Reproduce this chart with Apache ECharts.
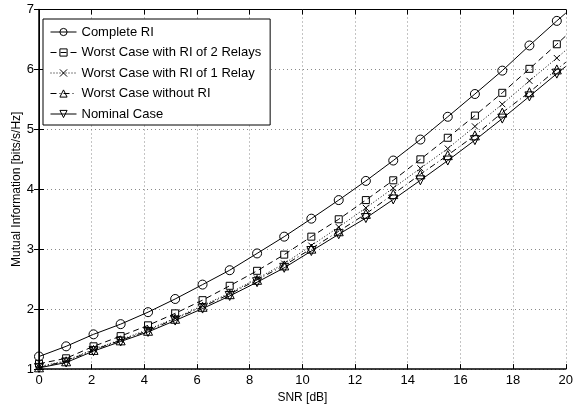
<!DOCTYPE html>
<html>
<head>
<meta charset="utf-8">
<script src="https://cdn.jsdelivr.net/npm/echarts@6/dist/echarts.min.js"></script>
<style>
html,body{margin:0;padding:0;background:#fff;}
#chart{width:576px;height:409px;}
</style>
</head>
<body>
<div id="chart"></div>
<script>
// SNR positions of markers (dB), plus line end point
const snr = [0, 1.03, 2.07, 3.10, 4.14, 5.17, 6.21, 7.24, 8.28, 9.31, 10.34, 11.38, 12.41, 13.45, 14.48, 15.52, 16.55, 17.59, 18.62, 19.66];
const snrEnd = 20;

const seriesNames = ['Complete RI', 'Worst Case with RI of 2 Relays', 'Worst Case with RI of 1 Relay', 'Worst Case without RI', 'Nominal Case'];

const completeRI = [1.21, 1.38, 1.58, 1.75, 1.95, 2.17, 2.41, 2.65, 2.93, 3.21, 3.51, 3.82, 4.14, 4.48, 4.83, 5.21, 5.59, 5.98, 6.40, 6.81];
const worst2Relays = [1.09, 1.18, 1.38, 1.55, 1.73, 1.93, 2.15, 2.39, 2.64, 2.91, 3.21, 3.50, 3.82, 4.15, 4.50, 4.86, 5.23, 5.61, 6.01, 6.42];
const worst1Relay = [1.04, 1.14, 1.33, 1.49, 1.66, 1.85, 2.06, 2.27, 2.51, 2.76, 3.06, 3.37, 3.69, 4.02, 4.35, 4.68, 5.05, 5.42, 5.81, 6.19];
const worstNoRI = [1.03, 1.13, 1.32, 1.48, 1.64, 1.84, 2.04, 2.25, 2.49, 2.73, 3.01, 3.30, 3.59, 3.92, 4.25, 4.57, 4.90, 5.28, 5.62, 6.00];
const nominal = [1.02, 1.11, 1.30, 1.46, 1.62, 1.81, 2.01, 2.22, 2.45, 2.69, 2.97, 3.25, 3.52, 3.83, 4.15, 4.48, 4.82, 5.18, 5.55, 5.93];
const lineEndValues = [6.94, 6.56, 6.32, 6.12, 6.05];

const xTicks = [0, 2, 4, 6, 8, 10, 12, 14, 16, 18, 20];
const yTicks = [1, 2, 3, 4, 5, 6, 7];

const allValues = [completeRI, worst2Relays, worst1Relay, worstNoRI, nominal];
const symbols = [
  'circle',
  'rect',
  'path://M0,0L10,10M10,0L0,10',
  'triangle',
  'path://M0,0L10,0L5,9Z'
];
const symbolSizes = [9, 7, 6, 9, 9];
const lineTypes = ['solid', [6, 4], [1, 2], [6, 3, 1, 3], 'solid'];

const series = allValues.map((vals, k) => {
  const data = snr.map((x, i) => [x, vals[i]]);
  data.push({ value: [snrEnd, lineEndValues[k]], symbol: 'none' });
  return {
    name: seriesNames[k],
    type: 'line',
    data: data,
    symbol: symbols[k],
    symbolSize: symbolSizes[k],
    showAllSymbol: true,
    lineStyle: { color: '#000', width: 1, type: lineTypes[k] },
    itemStyle: { color: 'rgba(0,0,0,0)', borderColor: '#000', borderWidth: 1 },
    emphasis: { disabled: true },
    animation: false,
    z: 2
  };
});

const font = 'Liberation Sans, Arial, sans-serif';
const chart = echarts.init(document.getElementById('chart'));
chart.setOption({
  backgroundColor: '#fff',
  animation: false,
  grid: { left: 39, right: 7, top: 9.5, bottom: 36.5 },
  legend: {
    data: seriesNames,
    orient: 'vertical',
    left: 43,
    top: 19,
    borderColor: '#000',
    borderWidth: 1,
    backgroundColor: '#fff',
    padding: [6, 9, 4, 7],
    itemGap: 6.5,
    itemWidth: 26,
    itemHeight: 9,
    lineStyle: { width: 1 },
    itemStyle: { borderWidth: 1 },
    textStyle: { fontFamily: font, fontSize: 13, color: '#000', lineHeight: 14 },
    z: 10
  },
  xAxis: [{
    type: 'value', min: 0, max: 20, interval: 2,
    name: 'SNR [dB]', nameLocation: 'middle', nameGap: 19,
    nameTextStyle: { fontFamily: font, fontSize: 12, color: '#000' },
    axisLine: { lineStyle: { color: '#000', width: 1.5 } },
    axisTick: { inside: true, length: 5, lineStyle: { color: '#000' } },
    axisLabel: { fontFamily: font, fontSize: 13, color: '#000', margin: 5,
      formatter: v => xTicks.includes(v) ? String(v) : '' },
    splitLine: { show: true, lineStyle: { color: '#888', type: [1, 3], width: 1 } }
  }, {
    type: 'value', min: 0, max: 20, interval: 2, position: 'top',
    axisLine: { lineStyle: { color: '#000', width: 1 } },
    axisTick: { inside: true, length: 5, lineStyle: { color: '#000' } },
    axisLabel: { show: false }, splitLine: { show: false }
  }],
  yAxis: [{
    type: 'value', min: 1, max: 7, interval: 1,
    name: 'Mutual Information [bits/s/Hz]', nameLocation: 'middle', nameGap: 16,
    nameMoveOverlap: false,
    nameTextStyle: { fontFamily: font, fontSize: 12, color: '#000' },
    axisLine: { show: true, lineStyle: { color: '#000', width: 1 } },
    axisTick: { show: true, inside: true, length: 5, lineStyle: { color: '#000' } },
    axisLabel: { fontFamily: font, fontSize: 13, color: '#000', margin: 5,
      formatter: v => yTicks.includes(v) ? String(v) : '' },
    splitLine: { show: true, lineStyle: { color: '#888', type: [1, 3], width: 1 } }
  }, {
    type: 'value', min: 1, max: 7, interval: 1, position: 'right',
    axisLine: { show: true, lineStyle: { color: '#000', width: 1.5 } },
    axisTick: { show: true, inside: true, length: 5, lineStyle: { color: '#000' } },
    axisLabel: { show: false }, splitLine: { show: false }
  }],
  series: series
});
</script>
</body>
</html>
